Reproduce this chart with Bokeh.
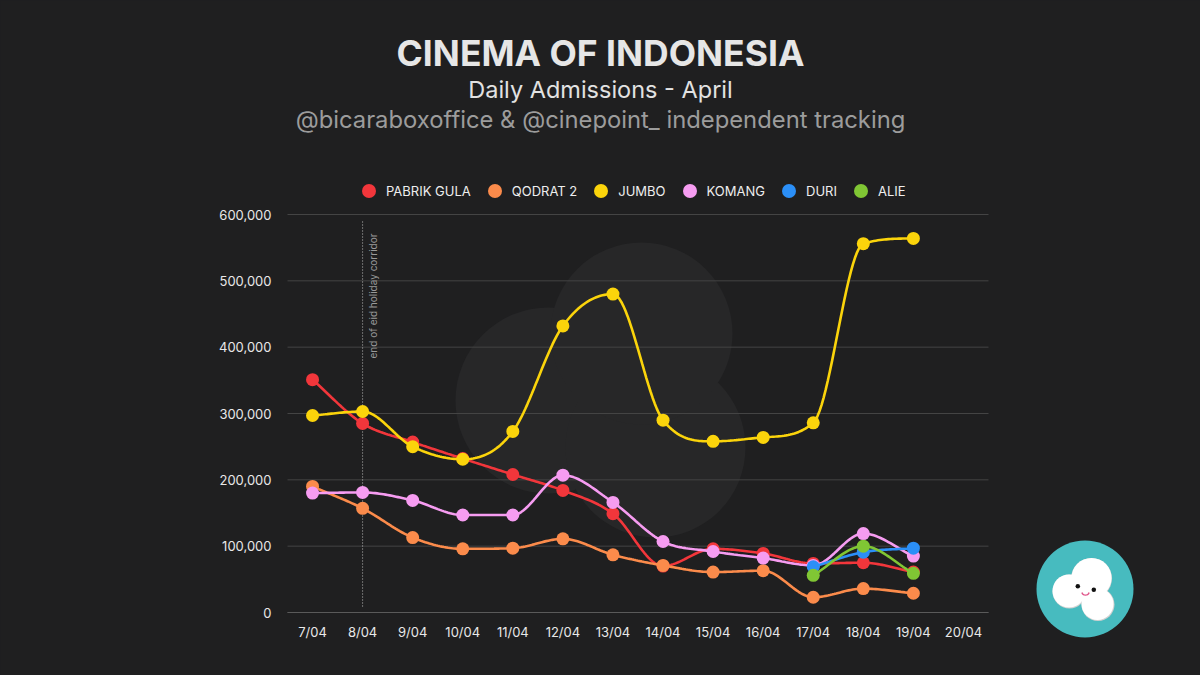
import math
from bokeh.plotting import figure
from bokeh.models import (Range1d, FixedTicker, NumeralTickFormatter, Legend,
                          LegendItem, Label)
from bokeh.embed import file_html
from bokeh.resources import INLINE

# ---------------- data ----------------
days = ["7/04", "8/04", "9/04", "10/04", "11/04", "12/04", "13/04",
        "14/04", "15/04", "16/04", "17/04", "18/04", "19/04", "20/04"]
pabrik_gula = [351000, 285000, 257000, 232000, 208000, 184000, 149000,
               70000, 96000, 89000, 74000, 75000, 61000, None]
qodrat_2 = [190000, 157000, 113000, 96000, 97000, 111000, 87000,
            71000, 61000, 63000, 23000, 36000, 29000, None]
jumbo = [297000, 303000, 250000, 231000, 273000, 432000, 480000,
         290000, 258000, 264000, 286000, 556000, 564000, None]
komang = [180000, 181000, 169000, 147000, 147000, 207000, 166000,
          107000, 92000, 82000, 71000, 119000, 85000, None]
duri = [None, None, None, None, None, None, None,
        None, None, None, 69000, 91000, 97000, None]
alie = [None, None, None, None, None, None, None,
        None, None, None, 56000, 100000, 59000, None]

series_names = ["PABRIK GULA", "QODRAT 2", "JUMBO", "KOMANG", "DURI", "ALIE"]
series_values = [pabrik_gula, qodrat_2, jumbo, komang, duri, alie]
series_colors = ["#f2363b", "#fb8b4b", "#fbd40b", "#f69cf1", "#2b8ff7", "#80c634"]
y_ticks = [0, 100000, 200000, 300000, 400000, 500000, 600000]

BG = "#1f1f20"
FONT = "Inter"

# ---------------- geometry (pixel layout of the page) ----------------
W, H = 1200, 675
LEFT, RIGHT, BOTTOM, TOP_TICK_PX = 287, 988, 612, 214
X0, X1 = -0.5, len(days) - 0.5
X_PER_PX = (X1 - X0) / (RIGHT - LEFT)
Y_PER_PX = 600000 / (BOTTOM - TOP_TICK_PX)


def px_x(px):
    return X0 + (px - LEFT) * X_PER_PX


def px_y(py):
    return (BOTTOM - py) * Y_PER_PX


def monotone(xs, ys, steps=24):
    """Monotone cubic (Chart.js style) rendering of a line through points."""
    n = len(xs)
    if n < 2:
        return list(xs), list(ys)
    dx = [xs[i + 1] - xs[i] for i in range(n - 1)]
    d = [(ys[i + 1] - ys[i]) / dx[i] for i in range(n - 1)]
    m = [0.0] * n
    m[0] = d[0]
    m[-1] = d[-1]
    for i in range(1, n - 1):
        m[i] = 0.0 if d[i - 1] * d[i] <= 0 else (d[i - 1] + d[i]) / 2
    for i in range(n - 1):
        if d[i] == 0:
            m[i] = m[i + 1] = 0.0
            continue
        a = m[i] / d[i]
        b = m[i + 1] / d[i]
        s = a * a + b * b
        if s > 9:
            t = 3 / math.sqrt(s)
            m[i] = t * a * d[i]
            m[i + 1] = t * b * d[i]
    ox, oy = [], []
    for i in range(n - 1):
        h = dx[i]
        for k in range(steps + (1 if i == n - 2 else 0)):
            t = k / steps
            h00 = 2 * t ** 3 - 3 * t ** 2 + 1
            h10 = t ** 3 - 2 * t ** 2 + t
            h01 = -2 * t ** 3 + 3 * t ** 2
            h11 = t ** 3 - t ** 2
            ox.append(xs[i] + t * h)
            oy.append(h00 * ys[i] + h10 * h * m[i] + h01 * ys[i + 1] + h11 * h * m[i + 1])
    return ox, oy


p = figure(width=W, height=H, x_range=Range1d(px_x(0), px_x(W)),
           y_range=Range1d(px_y(H), px_y(0)),
           output_backend="svg", toolbar_location=None, title=None,
           min_border=0, background_fill_color=BG, border_fill_color=None,
           outline_line_color=None)
p.styles = {"background-color": BG}

# watermark (decorative)
for (cx, cy, r) in [(548, 400, 93), (655, 447, 90), (641, 333, 91)]:
    p.scatter([px_x(cx)], [px_y(cy)], size=2 * r, fill_color="#272728",
              line_color=None)

xt = FixedTicker(ticks=list(range(len(days))))
yt = FixedTicker(ticks=y_ticks)

# horizontal grid lines at the y ticks, limited to the plot area
p.segment(x0=[X0] * len(y_ticks), y0=y_ticks, x1=[X1] * len(y_ticks), y1=y_ticks,
          line_color="#444444", line_width=1)
p.grid.visible = False

p.xaxis.fixed_location = 0
p.xaxis.bounds = (X0, X1)
p.xaxis.ticker = xt
p.xaxis.major_label_overrides = {i: d for i, d in enumerate(days)}
p.xaxis.axis_line_color = "#5a5a5a"
p.xaxis.major_tick_line_color = None
p.xaxis.minor_tick_line_color = None
p.xaxis.major_label_standoff = 5
p.xaxis.major_label_text_font = FONT
p.xaxis.major_label_text_font_size = "13px"
p.xaxis.major_label_text_color = "#e8e8e8"

p.yaxis.fixed_location = X0
p.yaxis.bounds = (0, 600000)
p.yaxis.ticker = yt
p.yaxis.formatter = NumeralTickFormatter(format="0,0")
p.yaxis.axis_line_color = None
p.yaxis.major_tick_line_color = None
p.yaxis.minor_tick_line_color = None
p.yaxis.major_label_standoff = 10
p.yaxis.major_label_text_font = FONT
p.yaxis.major_label_text_font_size = "13px"
p.yaxis.major_label_text_color = "#e8e8e8"

# annotation line
p.segment(x0=[1], y0=[px_y(606)], x1=[1], y1=[px_y(219)], line_color="#bdbdbd",
          line_width=1, line_dash="1 2")
p.add_layout(Label(x=1, y=px_y(233), x_offset=10, text="end of eid holiday corridor",
                   angle=math.pi / 2, text_align="right", text_baseline="middle",
                   text_font=FONT, text_font_size="10px", text_color="#9a9a9a"))

items = []
for name, vals, col in zip(series_names, series_values, series_colors):
    xs = [i for i, v in enumerate(vals) if v is not None]
    ys = [v for v in vals if v is not None]
    sx, sy = monotone(xs, ys)
    p.line(sx, sy, line_color=col, line_width=2.6)
    r = p.scatter(xs, ys, size=13, fill_color=col, line_color=None)
    items.append(LegendItem(label=name, renderers=[r]))

legend = Legend(items=items, orientation="horizontal", location=(351, H - 208),
                margin=0, padding=0, spacing=6, glyph_width=35, glyph_height=35,
                label_standoff=0, label_text_font=FONT, label_text_font_size="13px",
                label_text_color="#eeeeee", label_text_baseline="middle",
                background_fill_alpha=0, border_line_color=None)
p.add_layout(legend)

# titles
cx_title = px_x(600)
p.add_layout(Label(x=cx_title, y=px_y(53), text="CINEMA OF INDONESIA",
                   text_align="center", text_baseline="middle", text_font=FONT,
                   text_font_style="bold", text_font_size="35.5px", text_color="#e6e6e6"))
p.add_layout(Label(x=cx_title, y=px_y(89), text="Daily Admissions - April",
                   text_align="center", text_baseline="middle", text_font=FONT,
                   text_font_size="23.5px", text_color="#e2e2e2"))
p.add_layout(Label(x=cx_title, y=px_y(119),
                   text="@bicaraboxoffice & @cinepoint_ independent tracking",
                   text_align="center", text_baseline="middle", text_font=FONT,
                   text_font_size="23.8px", text_color="#9c9c9c"))

# logo (decorative, bottom right)
p.scatter([px_x(1084.5)], [px_y(588.5)], size=97, fill_color="#47bbbf", line_color=None)
p.scatter([px_x(1069), px_x(1091), px_x(1097.5)], [px_y(591), px_y(578), px_y(604)],
          size=[34, 41, 33], fill_color="#d0d0d0", line_color=None)
p.scatter([px_x(1068.5), px_x(1091), px_x(1097)], [px_y(590.5), px_y(577.5), px_y(603.5)],
          size=[33, 40, 32], fill_color="#ffffff", line_color=None)
p.scatter([px_x(1077.3), px_x(1093.3)], [px_y(585.7), px_y(589.3)], size=4.5,
          fill_color="#111111", line_color=None)
smx = [px_x(1081.5 + 3.5 * (1 - math.cos(t * math.pi / 8))) for t in range(9)]
smy = [px_y(592 + 2.6 * math.sin(t * math.pi / 8)) for t in range(9)]
p.line(smx, smy, line_color="#e0558a", line_width=1.4)

open("out.html", "w").write(file_html(p, INLINE))
